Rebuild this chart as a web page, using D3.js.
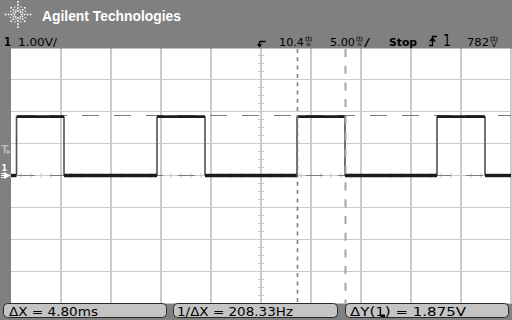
<!DOCTYPE html>
<html><head><meta charset="utf-8">
<script src="https://cdn.jsdelivr.net/npm/d3@7"></script>
<style>body{margin:0;background:#808080}svg{display:block}</style>
</head><body><svg id="c" width="512" height="320"></svg>
<script>
// ---- data ----
const waveTimes = [-14.6, -14.05, -9.3, 0, 4.8, 14.0, 18.8, 28.0, 32.8, 35.4]; // ms
const waveVolts = [0.0, 1.84, 0.0, 1.84, 0.0, 1.84, 0.0, 1.84, 0.0, 0.0];     // V
const timeDomain = [-14.6, 35.4];   // 5 ms/div, 10 div, delay 10.4 ms
const voltDomain = [-4, 4];         // 1 V/div, 8 div
const timeGrid = [-9.6, -4.6, 0.4, 5.4, 10.4, 15.4, 20.4, 25.4, 30.4, 35.4];
const voltGrid = [-3, -2, -1, 0, 1, 2, 3];
const cursorTimes = [14.0, 18.8];
const cursorVolts = [1.875, 0];
const triggerLevel = 0.782;
const measurements = ["ΔX = 4.80ms", "1/ΔX = 208.33Hz", "ΔY(1) = 1.875V"];

const svg = d3.select("#c");
const W = 512, H = 320;
const x = d3.scaleLinear().domain(timeDomain).range([11, 511]);
const y = d3.scaleLinear().domain(voltDomain).range([303.5, 47.5]);

svg.append("rect").attr("width", W).attr("height", H).attr("fill", "#808080");
svg.append("rect").attr("x", 11).attr("y", 47).attr("width", 501).attr("height", 256.5).attr("fill", "#fff");

// grid
const g = svg.append("g");
g.selectAll(".vg").data(timeGrid).join("line")
  .attr("x1", d => x(d)).attr("x2", d => x(d)).attr("y1", 47).attr("y2", 303.5)
  .attr("stroke", "#cbcbcb").attr("stroke-width", 2);
g.selectAll(".hg").data(voltGrid).join("line")
  .attr("x1", 11).attr("x2", 511).attr("y1", d => y(d)).attr("y2", d => y(d))
  .attr("stroke", "#cbcbcb").attr("stroke-width", 1);

// center axis minor ticks
const tc = 10.4;
const hticks = d3.range(timeDomain[0], timeDomain[1] + 0.01, 1);
g.selectAll(".ht").data(hticks).join("line")
  .attr("x1", d => x(d)).attr("x2", d => x(d)).attr("y1", y(0) - 2.5).attr("y2", y(0) + 2.5)
  .attr("stroke", "#c4c4c4").attr("stroke-width", 1);
const vticks = d3.range(voltDomain[0], voltDomain[1] + 0.01, 0.25);
g.selectAll(".vt").data(vticks).join("line")
  .attr("x1", x(tc) - 3).attr("x2", x(tc) + 3).attr("y1", d => y(d)).attr("y2", d => y(d))
  .attr("stroke", "#c4c4c4").attr("stroke-width", 1);

// Y cursors (horizontal dashed)
svg.selectAll(".yc").data(cursorVolts).join("line")
  .attr("x1", 11).attr("x2", 511).attr("y1", d => Math.round(y(d)) - 0.5).attr("y2", d => Math.round(y(d)) - 0.5)
  .attr("stroke", "#7a7a7a").attr("stroke-width", 1.2)
  .attr("stroke-dasharray", "17,15").attr("stroke-dashoffset", 25);

// waveform
const n = waveTimes.length;
const segs = d3.range(n - 1).map(i => ({t0: waveTimes[i], t1: waveTimes[i + 1], v: waveVolts[i]}));
const edges = d3.range(1, n - 1).filter(i => waveVolts[i] !== waveVolts[i - 1])
  .map(i => ({t: waveTimes[i], v0: waveVolts[i - 1], v1: waveVolts[i]}));
svg.selectAll(".ed").data(edges).join("line")
  .attr("x1", d => x(d.t)).attr("x2", d => x(d.t)).attr("y1", d => y(d.v0)).attr("y2", d => y(d.v1))
  .attr("stroke", "#505050").attr("stroke-width", 1.6);
svg.selectAll(".sg").data(segs).join("line")
  .attr("x1", d => x(d.t0)).attr("x2", d => x(d.t1)).attr("y1", d => y(d.v)).attr("y2", d => y(d.v))
  .attr("stroke", "#1c1c1c").attr("stroke-width", d => d.v > 1 ? 2.8 : 3.4);

// X cursors (vertical dashed)
svg.append("line").attr("x1", x(cursorTimes[0]) + 0.5).attr("x2", x(cursorTimes[0]) + 0.5)
  .attr("y1", 49).attr("y2", 303).attr("stroke", "#7c7c7c").attr("stroke-width", 1.6)
  .attr("stroke-dasharray", "4,4.3");
svg.append("line").attr("x1", x(cursorTimes[1]) + 0.5).attr("x2", x(cursorTimes[1]) + 0.5)
  .attr("y1", 49).attr("y2", 303).attr("stroke", "#a4a4a4").attr("stroke-width", 2)
  .attr("stroke-dasharray", "8,8.7");

// header
svg.append("rect").attr("width", W).attr("height", 48.5).attr("fill", "#808080");
// logo starburst
const logo = svg.append("g").attr("fill", "#fff");
const cx = 18, cy = 14.5;
d3.range(8).forEach(k => {
  const a = k * Math.PI / 4;
  [3.5, 6.5, 9.5, 12.5].forEach((r, j) => {
    if (k % 2 === 1 && j === 3) return;
    logo.append("rect").attr("x", cx + r * Math.cos(a) - 0.8).attr("y", cy + r * Math.sin(a) - 0.8)
      .attr("width", 1.6).attr("height", 1.6);
  });
});
d3.range(8).forEach(k => {
  const a = k * Math.PI / 4 + Math.PI / 8;
  [5, 8].forEach(r => logo.append("rect").attr("x", cx + r * Math.cos(a) - 0.6).attr("y", cy + r * Math.sin(a) - 0.6)
    .attr("width", 1.2).attr("height", 1.2));
});
svg.append("text").attr("x", 42).attr("y", 21).attr("fill", "#fff")
  .attr("font-family", "Liberation Sans, Arial, sans-serif").attr("font-weight", "bold").attr("font-size", 14.5)
  .attr("textLength", 139).attr("lengthAdjust", "spacingAndGlyphs").text("Agilent Technologies");

const F = "DejaVu Sans, sans-serif";
function txt(s, xx, yy, size, w, bold, len) {
  const t = svg.append("text").attr("x", xx).attr("y", yy).attr("fill", "#000")
    .attr("font-family", F).attr("font-size", size).text(s);
  if (bold) t.attr("font-weight", "bold");
  if (len) t.attr("textLength", len).attr("lengthAdjust", "spacingAndGlyphs");
  return t;
}
txt("1", 4, 45.5, 13, 0, true, 7);
txt("1.00V/", 18, 45.5, 11, 0, false, 39);
// delay marker
svg.append("path").attr("d", "M259.5,41.5 H265.5 M259.5,41.5 V47").attr("stroke", "#000").attr("stroke-width", 1.3).attr("fill", "none");
svg.append("path").attr("d", "M257,44 L259.5,47.5 L262,44 Z").attr("fill", "#000");
txt("10.4", 279, 45.5, 11, 0, false, 25);
txt("m", 305, 40, 6, 0, false, 7); txt("s", 306, 46, 6, 0, false, 5);
svg.append("line").attr("x1", 305).attr("x2", 312).attr("y1", 40.8).attr("y2", 40.8).attr("stroke", "#000").attr("stroke-width", 0.6);
txt("5.00", 330, 45.5, 11, 0, false, 25);
txt("m", 356, 40, 6, 0, false, 7); txt("s", 357, 46, 6, 0, false, 5);
svg.append("line").attr("x1", 356).attr("x2", 363).attr("y1", 40.8).attr("y2", 40.8).attr("stroke", "#000").attr("stroke-width", 0.6);
txt("/", 364, 45.5, 11, 0, false, 6);
txt("Stop", 389, 45.5, 11, 0, true, 28);
// trigger edge symbol
svg.append("path").attr("d", "M429,45.5 H432.5 V36.5 H437 M430,41.5 L432.5,38 L435,41.5").attr("stroke", "#000").attr("stroke-width", 1.4).attr("fill", "none");
txt("1", 443, 45.5, 15, 0, false, 8);
txt("782", 467, 45.5, 11, 0, false, 22);
txt("m", 490, 40, 6, 0, false, 8); txt("V", 491.5, 46.5, 6.5, 0, false, 5);
svg.append("line").attr("x1", 490).attr("x2", 498).attr("y1", 40.8).attr("y2", 40.8).attr("stroke", "#000").attr("stroke-width", 0.6);

// left markers: trigger level T and ground 1
const ty = y(triggerLevel);
svg.append("text").attr("x", 1).attr("y", ty + 3).attr("fill", "#b8b8b8").attr("font-family", F)
  .attr("font-weight", "bold").attr("font-size", 11).text("T");
svg.append("path").attr("d", `M7,${ty - 1} L11,${ty + 1.5} L7,${ty + 4} Z`).attr("fill", "#b8b8b8");
const gy = y(0);
svg.append("text").attr("x", 1.5).attr("y", gy - 4.5).attr("fill", "#fff").attr("font-family", F)
  .attr("font-weight", "bold").attr("font-size", 8).text("1");
svg.append("path").attr("d", `M4,${gy - 3.5} L10.5,${gy} L4,${gy + 3.5} Z`).attr("fill", "#fff");
svg.append("path").attr("d", `M1,${gy - 2} H5 M1,${gy + 2} H5 M1,${gy} H5`).attr("stroke", "#fff").attr("stroke-width", 1);

// measurement boxes
const boxes = [{x: 3.5, w: 163, tx: 9, tl: 89}, {x: 173.5, w: 164, tx: 177, tl: 116}, {x: 345.5, w: 163, tx: 350, tl: 116}];
boxes.forEach((b, i) => {
  svg.append("rect").attr("x", b.x).attr("y", 303.5).attr("width", b.w).attr("height", 14)
    .attr("rx", 4).attr("fill", "#c4c4c4").attr("stroke", "#2a2a2a").attr("stroke-width", 1);
});
txt(measurements[0], boxes[0].tx, 315.5, 11.5, 0, false, boxes[0].tl);
txt(measurements[1], boxes[1].tx, 315.5, 11.5, 0, false, boxes[1].tl);
txt(measurements[2], boxes[2].tx, 315.5, 11.5, 0, false, boxes[2].tl);
svg.append("rect").attr("x", 380.5).attr("y", 314.5).attr("width", 4.5).attr("height", 2.5).attr("fill", "#000");
</script></body></html>
